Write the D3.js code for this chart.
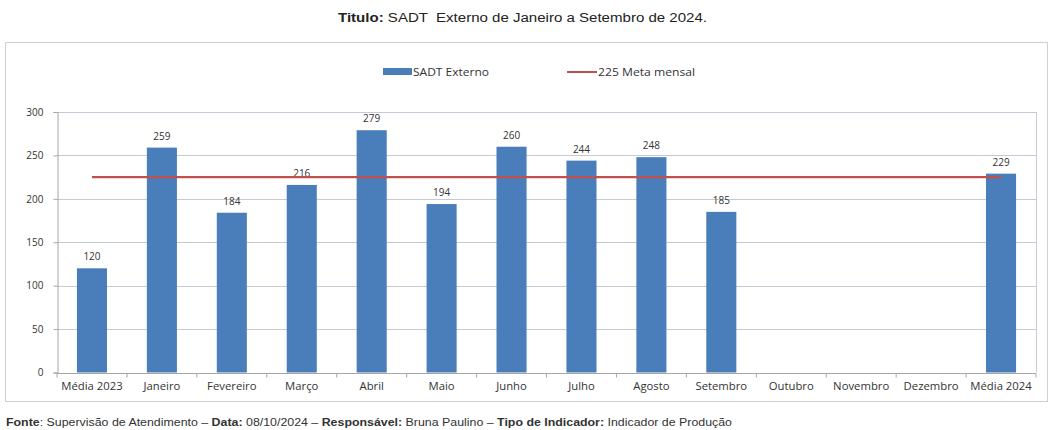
<!DOCTYPE html>
<html><head><meta charset="utf-8">
<script src="https://cdn.jsdelivr.net/npm/d3@7"></script>
<style>
body{margin:0;background:#fff;font-family:"Liberation Sans",Arial,sans-serif;}
svg{display:block}
</style></head>
<body>
<svg id="c" width="1051" height="430"></svg>
<script>
const categories = ["Média 2023","Janeiro","Fevereiro","Março","Abril","Maio","Junho","Julho","Agosto","Setembro","Outubro","Novembro","Dezembro","Média 2024"];
const sadtValues = [120,259,184,216,279,194,260,244,248,185,null,null,null,229];
const metaValue = 225;
const yTicks = [0,50,100,150,200,250,300];

const svg = d3.select("#c");
const m = {left:57, right:1036, top:112, bottom:372.5};

function fitWidth(sel, w){
  sel.attr("textLength", w).attr("lengthAdjust","spacingAndGlyphs");
}
function stretch(sel, k){
  sel.each(function(){
    const l = this.getComputedTextLength();
    d3.select(this).attr("textLength", l*k).attr("lengthAdjust","spacingAndGlyphs");
  });
}

// outer frame
svg.append("rect").attr("x",5.5).attr("y",42.5).attr("width",1042).attr("height",359)
  .attr("fill","#fff").attr("stroke","#d0d0d0").attr("stroke-width",1);

// title
const t = svg.append("text").attr("x",338).attr("y",22)
  .attr("font-size",12).attr("fill","#222");
t.append("tspan").attr("font-weight","bold").text("Titulo:");
t.append("tspan").text(" SADT  Externo de Janeiro a Setembro de 2024.");
t.attr("xml:space","preserve");
fitWidth(t, 369);

const x = d3.scaleBand().domain(categories).range([m.left,m.right]).paddingInner(0.57).paddingOuter(0.285);
const xc = d3.scalePoint().domain(categories).range([m.left,m.right]).padding(0.5);
const y = d3.scaleLinear().domain([0,300]).range([m.bottom,m.top]);

// gridlines
svg.append("g").selectAll("line").data(yTicks.filter(d=>d>0)).join("line")
  .attr("x1",m.left).attr("x2",m.right)
  .attr("y1",d=>Math.round(y(d))+0.5).attr("y2",d=>Math.round(y(d))+0.5)
  .attr("stroke","#c6c9d6").attr("stroke-width",1);
svg.append("line").attr("x1",m.right+0.5).attr("x2",m.right+0.5).attr("y1",y(300)).attr("y2",y(0))
  .attr("stroke","#c6c9d6");

// y axis
const ya = svg.append("g").attr("transform",`translate(${m.left+0.5},0)`)
  .call(d3.axisLeft(y).tickValues(yTicks).tickSize(4).tickPadding(10));
ya.select(".domain").attr("stroke","#a6a6a6");
ya.selectAll(".tick line").attr("stroke","#a6a6a6");
ya.selectAll(".tick text").attr("font-size",10).attr("fill","#333").attr("font-family","'Open Sans',sans-serif");

// bars
const data = categories.map((c,i)=>({c,v:sadtValues[i]})).filter(d=>d.v!=null);
svg.append("g").selectAll("rect").data(data).join("rect")
  .attr("x",d=>x(d.c)).attr("width",x.bandwidth())
  .attr("y",d=>y(d.v)).attr("height",d=>y(0)-y(d.v))
  .attr("fill","#4a7ebb");

// value labels
svg.append("g").selectAll("text").data(data).join("text")
  .attr("x",d=>x(d.c)+x.bandwidth()/2).attr("y",d=>y(d.v)-8)
  .attr("text-anchor","middle").attr("font-size",10).attr("fill","#333")
  .attr("font-family","'Open Sans',sans-serif").text(d=>d.v);

// x axis
const step = x.step();
const xa = svg.append("g").attr("transform",`translate(0,${Math.round(y(0))+0.5})`);
xa.append("line").attr("x1",m.left).attr("x2",m.right).attr("stroke","#a6a6a6");
xa.selectAll("line.tk").data(d3.range(categories.length+1)).join("line").attr("class","tk")
  .attr("x1",i=>m.left+i*step).attr("x2",i=>m.left+i*step).attr("y1",0).attr("y2",4).attr("stroke","#a6a6a6");
const xl = xa.selectAll("text").data(categories).join("text")
  .attr("x",d=>xc(d)).attr("y",16).attr("text-anchor","middle")
  .attr("font-size",10).attr("fill","#333").attr("font-family","'Open Sans',sans-serif")
  .text(d=>d);
stretch(xl, 1.13);

// meta line
svg.append("line").attr("x1",xc(categories[0])).attr("x2",xc(categories[categories.length-1]))
  .attr("y1",y(metaValue)).attr("y2",y(metaValue)).attr("stroke","#c0504d").attr("stroke-width",2.2);

// legend
const lg = svg.append("g").attr("font-family","'Open Sans',sans-serif").attr("font-size",10).attr("fill","#333");
lg.append("rect").attr("x",383).attr("y",68).attr("width",29).attr("height",7).attr("fill","#4a7ebb");
const l1 = lg.append("text").attr("x",413).attr("y",75.5).attr("fill","#333").text("SADT Externo");
fitWidth(l1, 76);
lg.append("line").attr("x1",567).attr("x2",597).attr("y1",72).attr("y2",72).attr("stroke","#c0504d").attr("stroke-width",2);
const l2 = lg.append("text").attr("x",598).attr("y",75.5).attr("fill","#333").text(metaValue+" Meta mensal");
fitWidth(l2, 97);

// footer
const f = svg.append("text").attr("x",6).attr("y",426).attr("font-size",10).attr("fill","#333");
const parts = [["Fonte",true],[": Supervisão de Atendimento – ",false],["Data:",true],[" 08/10/2024 – ",false],["Responsável:",true],[" Bruna Paulino – ",false],["Tipo de Indicador:",true],[" Indicador de Produção",false]];
parts.forEach(p=>f.append("tspan").attr("font-weight",p[1]?"bold":"normal").text(p[0]));
fitWidth(f, 726);
</script>
</body></html>
